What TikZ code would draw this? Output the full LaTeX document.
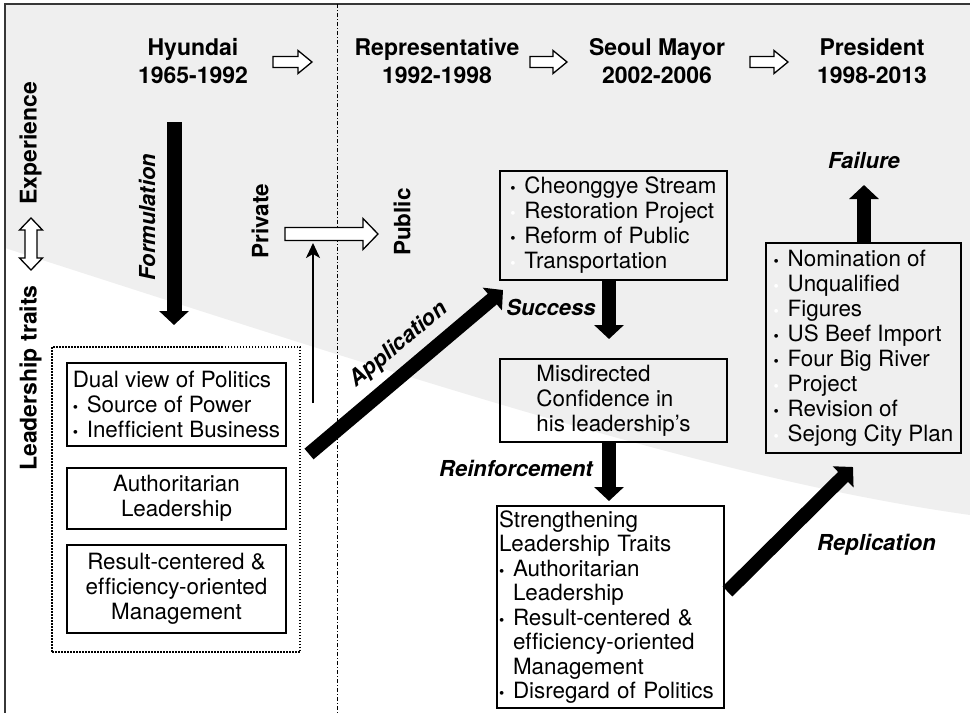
\documentclass[tikz,border=0pt]{standalone}
\usepackage{fontspec}
\setmainfont{TeX Gyre Heros}[Ligatures=NoCommon]
\usetikzlibrary{arrows.meta}
\definecolor{bggray}{RGB}{239,239,239}
\definecolor{framec}{RGB}{55,55,55}
\newcommand\bul{\makebox[14pt][l]{{\fontsize{15}{15}\selectfont •}}}
\newcommand\wbul{\makebox[14pt][l]{\textcolor{white}{\fontsize{15}{15}\selectfont •}}}
\newcommand\oarrowH[6]{% x1, x2, y, shaft half, head half, head length
  \draw[openarr] (#1,{#3-#4}) -- ({#2-#6},{#3-#4}) -- ({#2-#6},{#3-#5}) -- (#2,#3)
    -- ({#2-#6},{#3+#5}) -- ({#2-#6},{#3+#4}) -- (#1,{#3+#4}) -- cycle;}
\begin{document}
\begin{tikzpicture}[x=1pt,y=-1pt,
  openarr/.style={draw=black, fill=white, line width=1.3pt, line join=miter},
  box/.style={draw, line width=1.2pt, inner sep=0pt, font=\fontsize{22.4}{25}\selectfont, align=left},
  hdr/.style={font=\fontsize{23}{28}\selectfont\bfseries, align=center, inner sep=0pt},
  sidelbl/.style={font=\fontsize{22.5}{26}\selectfont\bfseries, inner sep=0pt},
  lbl/.style={font=\fontsize{22}{26}\selectfont\bfseries\itshape, inner sep=0pt},
  barrow/.style={line width=14pt, -{Triangle[width=29pt,length=14pt]}},
  thinarrow/.style={line width=2pt, -{Stealth[length=15pt,width=14pt,inset=4pt]}},
  grpbox/.style={draw, line width=1.3pt, dash pattern=on 1.5pt off 1.5pt, inner sep=0pt}
]
\useasboundingbox (0,0) rectangle (970,713);
% background region
\fill[bggray] (5,4) -- (970,4) -- (970,515) .. controls (720,480) and (430,385) .. (5,248) -- cycle;
% frame
\draw[line width=2pt, draw=framec] (970,4) -- (5,4) -- (5,713);
% period divider
\draw[line width=1pt, dash pattern=on 4pt off 2pt on 1pt off 2pt] (337,4) -- (337,713);

% header
\node[hdr] (hy) at (193,61) {Hyundai\\1965-1992};
\node[hdr] (rep) at (437,61) {Representative\\1992-1998};
\node[hdr] (sm) at (657,61) {Seoul Mayor\\2002-2006};
\node[hdr] (pr) at (872,61) {President\\1998-2013};
\oarrowH{273}{312}{62}{5.5}{11.5}{14}
\oarrowH{530}{567}{62}{5.5}{11.5}{14}
\oarrowH{750}{788}{62}{5.5}{11.5}{14}

% left side labels
\node[hdr, rotate=90] (exp) at (30.5,143) {Experience};
\node[hdr, rotate=90] (lt) at (30.5,378) {Leadership traits};
\draw[openarr] (25,230) -- (19.5,230) -- (31,218) -- (42.5,230) -- (37,230) -- (37,258)
  -- (42.5,258) -- (31,270) -- (19.5,258) -- (25,258) -- cycle;

% Hyundai column
\coordinate (f0) at (174,122);
\coordinate (f1) at (174,325);
\draw[barrow, line width=15pt] (f0) -- (f1);
\node[lbl, rotate=90] (form) at (147,217) {Formulation};

\node[grpbox, minimum width=248pt, minimum height=305pt] (grp) at (176,499.5) {};
\node[box, minimum width=219pt, minimum height=83pt] (b1) at (176.5,404.5)
  {Dual view of Politics\\\bul Source of Power\\\bul Inefficient Business};
\node[box, align=center, minimum width=219pt, minimum height=61pt] (b2) at (176.5,498.5)
  {Authoritarian\\Leadership};
\node[box, align=center, minimum width=219pt, minimum height=88pt] (b3) at (176.5,589)
  {Result-centered \&\\efficiency-oriented\\Management};

% private -> public
\node[sidelbl, rotate=90] (priv) at (260,221) {Private};
\node[sidelbl, rotate=90] (pub) at (402,222) {Public};
\oarrowH{285}{378}{234}{6.5}{15.5}{15}
\coordinate (t0) at (313,403);
\coordinate (t1) at (313,243);
\draw[thinarrow] (t0) -- (t1);

% application
\coordinate (a0) at (309,454);
\coordinate (a1) at (503,290);
\draw[barrow] (a0) -- (a1);
\node[lbl, rotate=40] (app) at (399,345) {Application};

% middle column
\node[box, minimum width=227pt, minimum height=109pt] (cheong) at (613.5,225.5)
  {\bul Cheonggye Stream\\\wbul Restoration Project\\\bul Reform of Public\\\wbul Transportation};
\coordinate (s1) at (609,339);
\draw[barrow] (cheong.south -| s1) -- (s1);
\node[lbl] (succ) at (551,307) {Success};

\node[box, minimum width=227pt, minimum height=83pt] (misdir) at (613.5,400.5)
  {Misdirected\\Confidence in\\his leadership’s};
\coordinate (r1) at (609,501);
\draw[barrow] (misdir.south -| r1) -- (r1);
\node[lbl] (reinf) at (516,468) {Reinforcement};

\node[box, font=\fontsize{22.4}{24.5}\selectfont, text width=223pt, minimum width=227pt, minimum height=202pt] (streng) at (610.5,607)
  {Strengthening\\Leadership Traits\\\bul Authoritarian\\\wbul Leadership\\\bul Result-centered \&\\\wbul efficiency-oriented\\\wbul Management\\\bul Disregard of Politics};

% replication
\coordinate (p0) at (727.5,591.5);
\coordinate (p1) at (853,467);
\draw[barrow] (p0) -- (p1);
\node[lbl] (repl) at (876.5,545) {Replication};

% right column
\node[box, minimum width=195pt, minimum height=210pt] (nomin) at (863.5,348)
  {\bul Nomination of\\\wbul Unqualified\\\wbul Figures\\\bul US Beef Import\\\bul Four Big River\\\wbul Project\\\bul Revision of\\\wbul Sejong City Plan};
\coordinate (fa1) at (864,185);
\draw[barrow] (nomin.north -| fa1) -- (fa1);
\node[lbl] (fail) at (864,160) {Failure};
\end{tikzpicture}
\end{document}
